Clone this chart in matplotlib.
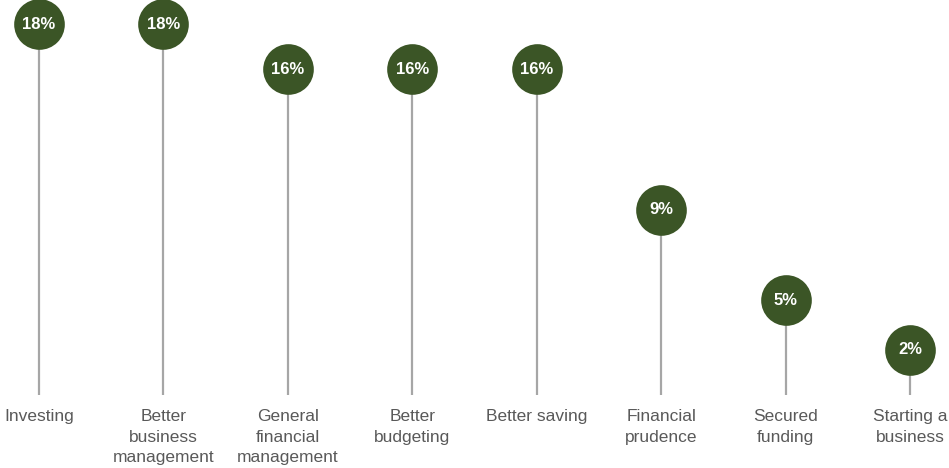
import numpy as np
import matplotlib
matplotlib.use('Agg')
import matplotlib.pyplot as plt

categories = ["Investing", "Better\nbusiness\nmanagement", "General\nfinancial\nmanagement",
              "Better\nbudgeting", "Better saving", "Financial\nprudence", "Secured\nfunding",
              "Starting a\nbusiness"]
values = [18.0, 18.0, 15.8, 15.8, 15.8, 9.0, 4.6, 2.2]
labels = ["18%", "18%", "16%", "16%", "16%", "9%", "5%", "2%"]

plt.rcParams['font.family'] = ['Liberation Sans', 'DejaVu Sans']

fig = plt.figure(figsize=(9.49, 4.68), dpi=100, facecolor="white")
ax = fig.add_axes([0, 0, 1, 1])
x = np.arange(len(categories))

ax.vlines(x, 0, values, color="#a6a6a6", linewidth=1.6, zorder=1)
ax.scatter(x, values, s=1330, color="#3b5526", zorder=2, linewidths=0)
for xi, v, lab in zip(x, values, labels):
    ax.text(xi, v, lab, ha="center", va="center", color="white",
            fontsize=12, fontweight="bold", zorder=3)
for xi, cat in zip(x, categories):
    ax.text(xi, -0.7, cat, ha="center", va="top", color="#595959",
            fontsize=12.5, linespacing=1.42)

ax.set_xlim(-0.313, 7.313)
ax.set_ylim(-3.54, 19.17)
ax.axis("off")

fig.savefig("out.png", dpi=100, facecolor="white")
